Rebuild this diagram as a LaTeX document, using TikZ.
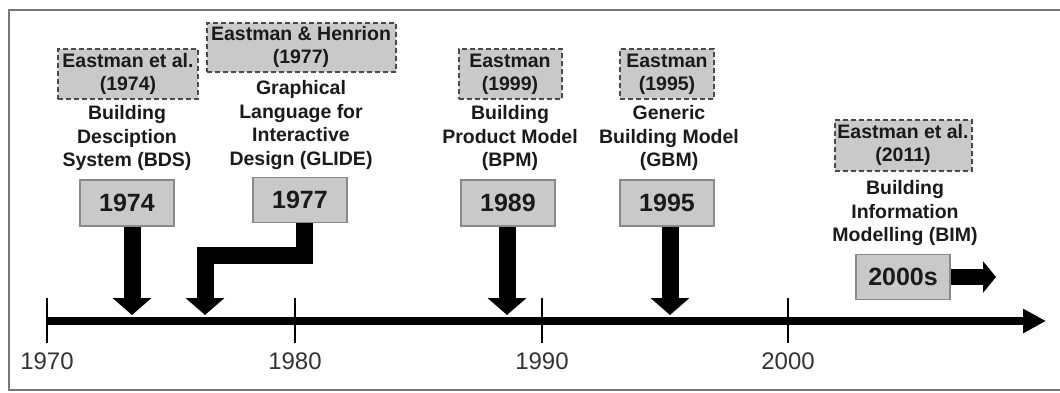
\documentclass[tikz,border=0pt]{standalone}
\usepackage{fontspec}
\setmainfont{Liberation Sans}
\usetikzlibrary{arrows.meta}
\definecolor{boxfill}{HTML}{C9C9C9}
\definecolor{boxline}{HTML}{8A8A8A}
\definecolor{dashline}{HTML}{4A4A4A}
\definecolor{txt}{HTML}{1A1A1A}
\definecolor{framec}{HTML}{777777}
\tikzset{
  citebox/.style={draw=dashline, fill=boxfill, dash pattern=on 5pt off 3pt, line width=2pt, inner sep=0pt, align=center, text=txt, font=\fontsize{19.5}{23}\selectfont\bfseries},
  yearbox/.style={draw=boxline, fill=boxfill, line width=1.4pt, inner sep=0pt, minimum width=94pt, minimum height=46pt, text=txt, font=\fontsize{25}{28}\selectfont\bfseries},
  desc/.style={align=center, inner sep=0pt, text=txt, font=\fontsize{19.5}{23.5}\selectfont\bfseries},
  axlabel/.style={inner sep=0pt, text=black!80, font=\fontsize{24}{28}\selectfont},
  bigarrow/.style={line width=17pt, -{Triangle[width=38pt,length=17pt]}, line join=miter},
  tick/.style={line width=2.5pt}
}
\begin{document}
\begin{tikzpicture}[x=1pt,y=-1pt]
\useasboundingbox (0,0) rectangle (1060,392);
\draw[framec, line width=1.8pt] (1062,10) -- (9,10) -- (9,390) -- (1062,390);

% axis
\coordinate (a0) at (47,321);
\coordinate (a1) at (1046,321);
\draw[line width=8pt, -{Triangle[width=23pt,length=23pt]}] (a0) -- (a1);
\foreach \x/\lab in {47/1970, 295/1980, 542/1990, 788/2000}{
  \coordinate (tk\lab) at (\x,321);
  \draw[tick] (\x,298) -- (\x,343);
  \node[axlabel] (lab\lab) at (\x,361) {\lab};
}

% citation boxes
\node[citebox, minimum width=140pt, minimum height=50pt] (c1974) at (128,74) {Eastman et al.\\(1974)};
\node[citebox, minimum width=189pt, minimum height=49pt] (c1977) at (301,47) {Eastman \& Henrion\\(1977)};
\node[citebox, minimum width=103pt, minimum height=50pt] (c1999) at (510,74) {Eastman\\(1999)};
\node[citebox, minimum width=94pt, minimum height=50pt] (c1995) at (667,74) {Eastman\\(1995)};
\node[citebox, minimum width=137pt, minimum height=51pt] (c2011) at (903,145) {Eastman et al.\\(2011)};

% descriptions
\node[desc] (dBDS) at (127,138) {Building\\Desciption\\System (BDS)};
\node[desc] (dGLIDE) at (301,125) {Graphical\\Language for\\Interactive\\Design (GLIDE)};
\node[desc] (dBPM) at (510,138) {Building\\Product Model\\(BPM)};
\node[desc] (dGBM) at (669,138) {Generic\\Building Model\\(GBM)};
\node[desc] (dBIM) at (905,213) {Building\\Information\\Modelling (BIM)};

% year boxes
\node[yearbox] (y1974) at (127,203) {1974};
\node[yearbox, minimum height=45pt] (y1977) at (300,200) {1977};
\node[yearbox] (y1989) at (508,203) {1989};
\node[yearbox] (y1995) at (667,203) {1995};
\node[yearbox, minimum height=45pt] (y2000) at (903,277) {2000s};

% arrow targets
\coordinate (t1974) at (132,315);
\coordinate (t1977) at (205,315);
\coordinate (t1989) at (507,315);
\coordinate (t1995) at (670,315);
\coordinate (t2000) at (996,277);

\draw[bigarrow] ([xshift=5pt]y1974.south) -- (t1974);
\draw[bigarrow] ([xshift=4.5pt]y1977.south) -- ++(0,32) -| (t1977);
\draw[bigarrow] ([xshift=-1pt]y1989.south) -- (t1989);
\draw[bigarrow] ([xshift=3pt]y1995.south) -- (t1995);
\draw[line width=16pt, -{Triangle[width=31pt,length=13pt]}] (y2000.east) -- (t2000);
\end{tikzpicture}
\end{document}
